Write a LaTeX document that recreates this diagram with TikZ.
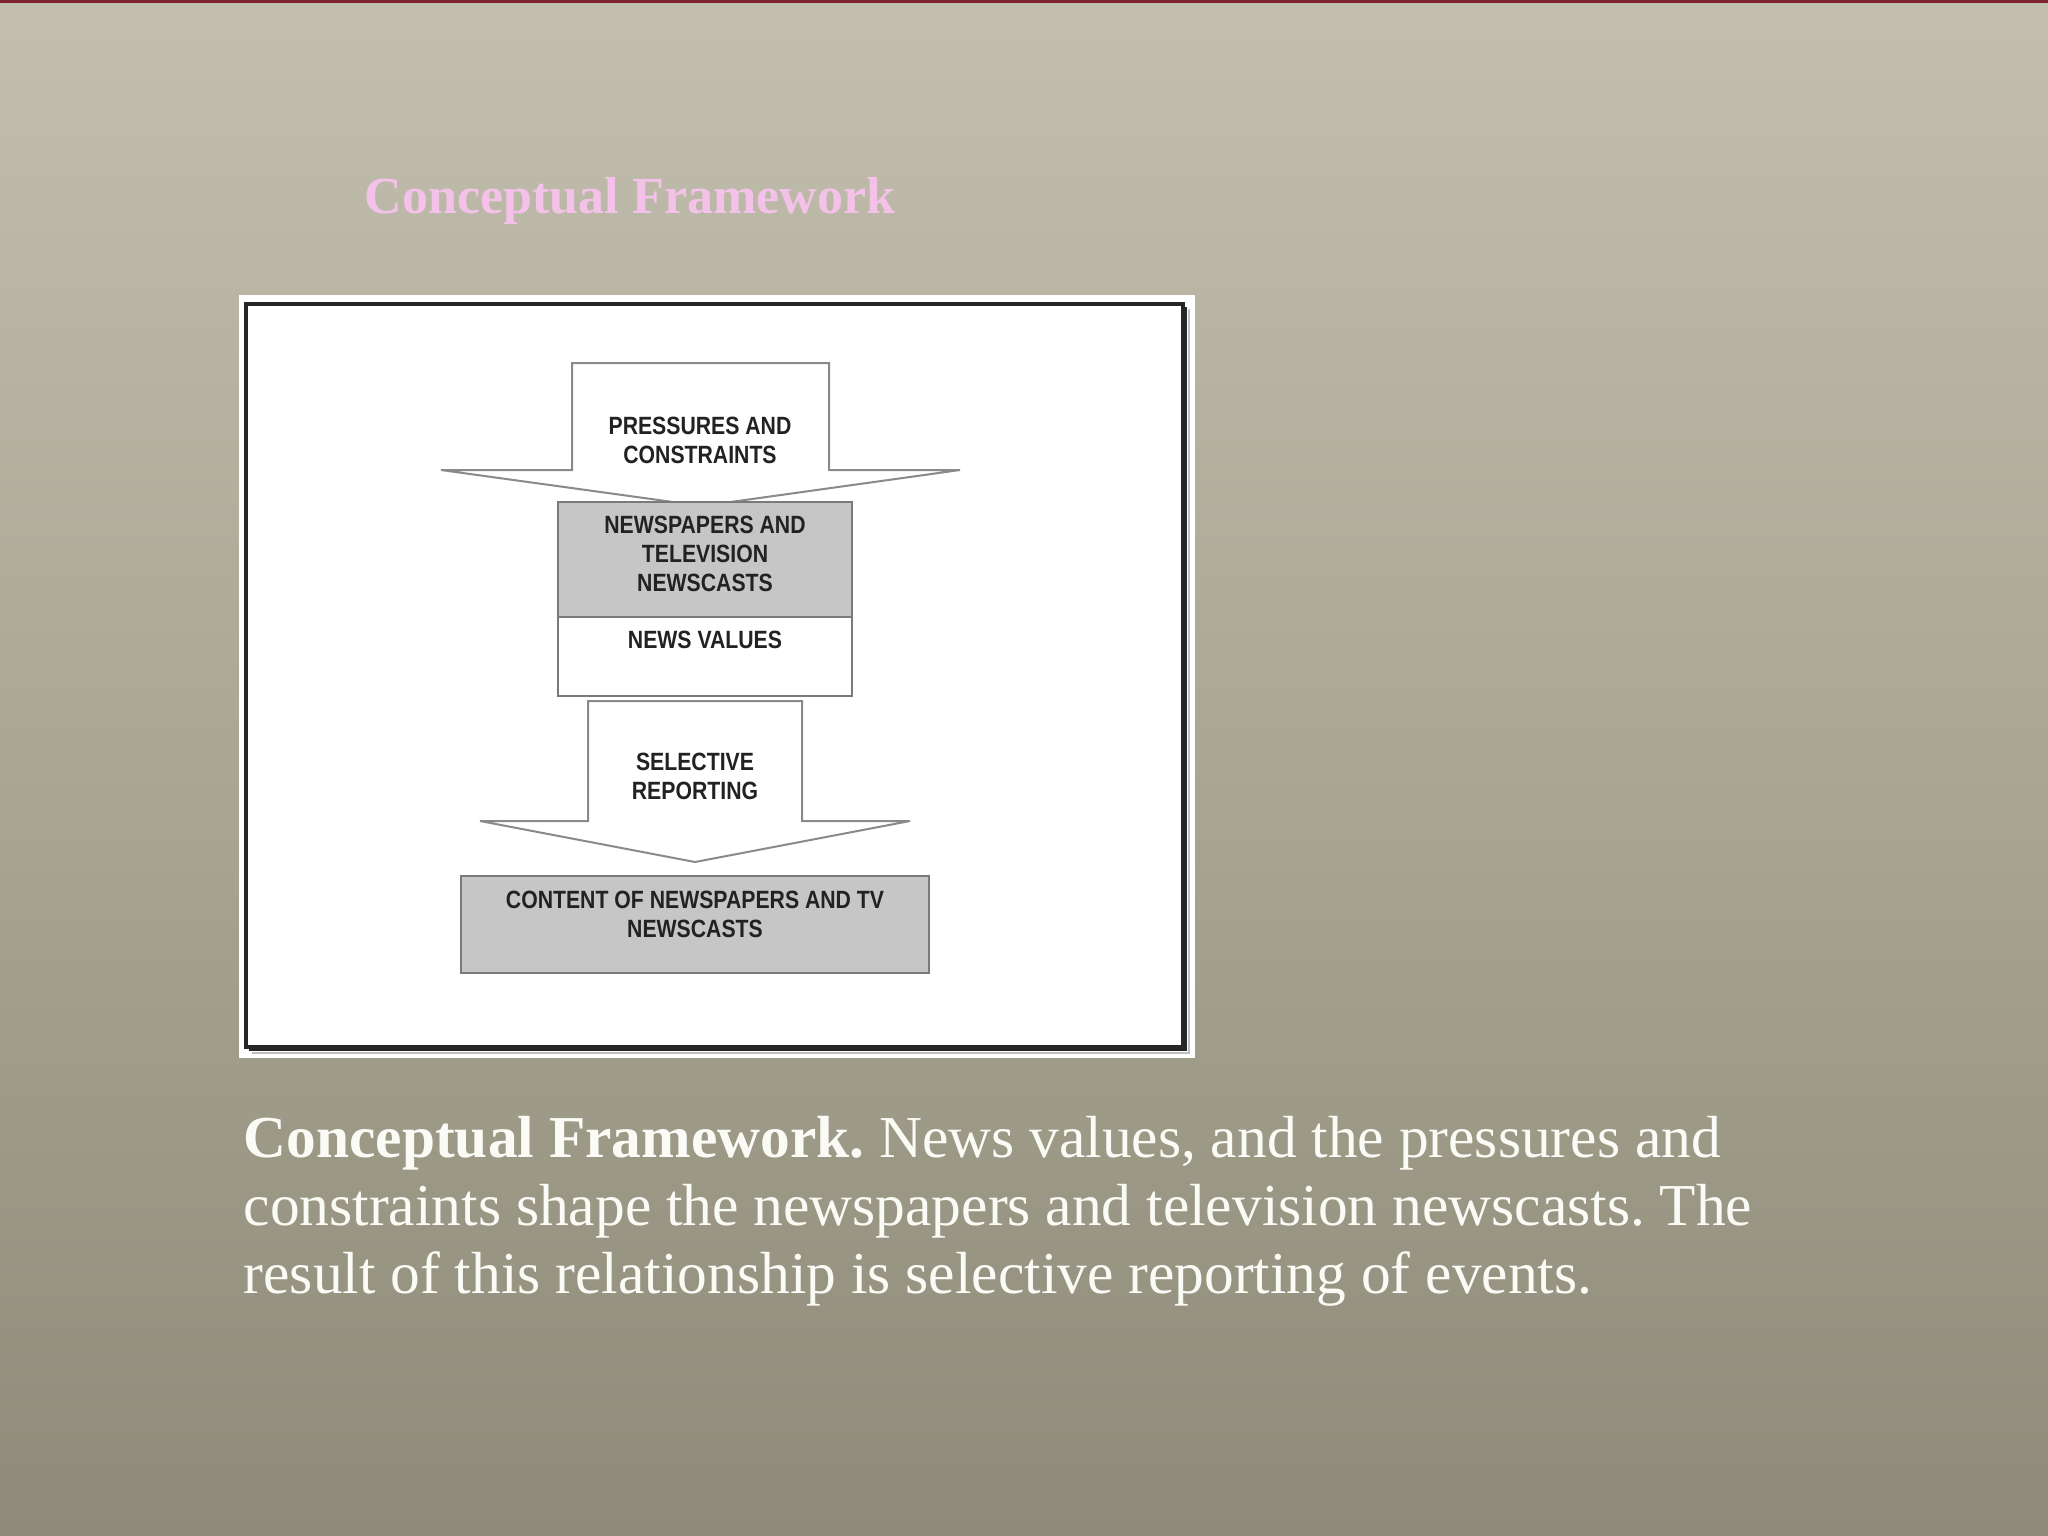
\documentclass[tikz,border=0pt]{standalone}
\usepackage{fontspec}
\setmainfont{Liberation Serif}
\newfontfamily\boxfont[FakeStretch=0.85]{Liberation Sans}
\definecolor{bgtop}{HTML}{C3BFB0}
\definecolor{bgmid}{HTML}{A9A693}
\definecolor{bgbot}{HTML}{8E8B7A}
\definecolor{topred}{HTML}{7D2530}
\definecolor{titlepink}{HTML}{F4C2E8}
\definecolor{arrowgray}{HTML}{8A8A8A}
\definecolor{boxedge}{HTML}{7A7A7A}
\definecolor{boxfill}{HTML}{C6C6C6}
\definecolor{textdark}{HTML}{222222}
\definecolor{captionwhite}{HTML}{FBFBF6}
\begin{document}
\frenchspacing
\begin{tikzpicture}[x=0.01cm,y=-0.01cm,
  blockarrow/.style={draw=arrowgray, line width=0.57pt, fill=white, line join=miter},
  graybox/.style={draw=boxedge, line width=0.7pt, fill=boxfill, inner sep=0},
  whitebox/.style={draw=boxedge, line width=0.7pt, fill=white, inner sep=0},
  boxlabel/.style={font=\boxfont\bfseries\fontsize{7.1}{8.25}\selectfont, text=textdark, align=center, inner sep=0},
  captionline/.style={font=\fontsize{16.9}{19.35}\selectfont, text=captionwhite, anchor=base west, inner sep=0},
  titletext/.style={font=\bfseries\fontsize{14.8}{17}\selectfont, text=titlepink, anchor=base, inner sep=0}]
\useasboundingbox (0,0) rectangle (2048,1536);
% background
\shade[top color=bgtop, bottom color=bgbot, middle color=bgmid] (0,0) rectangle (2048,1536);
\fill[topred] (0,0) rectangle (2048,3);
% title
\node[titletext] (title) at (630,213) {Conceptual Framework};
% white panel and frame
\fill[white] (239,295) rectangle (1195,1058);
\draw[black!85, line width=0.9pt] (246,304) rectangle (1183,1047);
\draw[black!85, line width=1.2pt] (1185,307) -- (1185,1049) -- (249,1049);
\draw[black!25, line width=0.6pt] (1189,309) -- (1189,1053) -- (252,1053);
% top block arrow
\draw[blockarrow] (572,363) -- (829,363) -- (829,470) -- (960,470) -- (702,506)
  -- (441,470) -- (572,470) -- cycle;
\node[boxlabel] (pressures) at (700,440) {PRESSURES AND\\CONSTRAINTS};
% newspapers box and news values box
\node[graybox, minimum width=2.94cm, minimum height=1.15cm] (papers) at (705,559.5) {};
\node[whitebox, minimum width=2.94cm, minimum height=0.79cm] (values) at (705,656.5) {};
\node[boxlabel] (paperslabel) at (705,554) {NEWSPAPERS AND\\TELEVISION\\NEWSCASTS};
\node[boxlabel] (valueslabel) at (705,640) {NEWS VALUES};
% second block arrow
\draw[blockarrow] (588,701) -- (802,701) -- (802,821) -- (910,821) -- (695,862)
  -- (480,821) -- (588,821) -- cycle;
\node[boxlabel] (selective) at (695,776) {SELECTIVE\\REPORTING};
% content box
\node[graybox, minimum width=4.68cm, minimum height=0.97cm] (content) at (695,924.5) {};
\node[boxlabel] (contentlabel) at (695,914) {CONTENT OF NEWSPAPERS AND TV\\NEWSCASTS};
% caption
\node[captionline] (cap1) at (243,1157) {\textbf{Conceptual Framework.} News values, and the pressures and};
\node[captionline] (cap2) at (243,1225) {constraints shape the newspapers and television newscasts. The};
\node[captionline] (cap3) at (243,1293) {result of this relationship is selective reporting of events.};
\end{tikzpicture}
\end{document}
